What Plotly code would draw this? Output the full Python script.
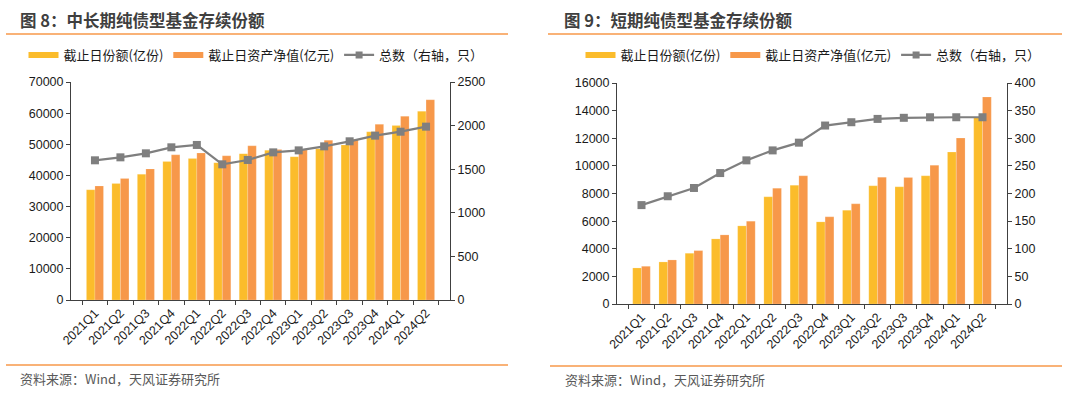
import plotly.graph_objects as go

W, H = 1080, 394

quarters = ["2021Q1", "2021Q2", "2021Q3", "2021Q4", "2022Q1", "2022Q2", "2022Q3",
            "2022Q4", "2023Q1", "2023Q2", "2023Q3", "2023Q4", "2024Q1", "2024Q2"]

# 图8 中长期纯债型基金
mid_shares = [35400, 37400, 40400, 44500, 45400, 44100, 47000, 48100, 46000, 48600, 49800, 54000, 56000, 60600]
mid_nav = [36600, 39000, 42100, 46600, 47200, 46300, 49500, 48300, 48200, 51300, 51600, 56400, 59000, 64300]
mid_count = [1602, 1636, 1682, 1751, 1778, 1556, 1606, 1693, 1716, 1762, 1820, 1885, 1930, 1988]

# 图9 短期纯债型基金
short_shares = [2610, 3045, 3674, 4713, 5656, 7758, 8604, 5946, 6792, 8556, 8483, 9281, 10997, 13500]
short_nav = [2731, 3190, 3867, 5003, 5994, 8387, 9281, 6308, 7251, 9184, 9160, 10054, 12012, 14985]
short_count = [179, 195, 210, 237, 260, 278, 292, 323, 329, 335, 337, 338, 338, 338]

titles = ["图 8：中长期纯债型基金存续份额", "图 9：短期纯债型基金存续份额"]
source = "资料来源：Wind，天风证券研究所"
name_shares = "截止日份额(亿份)"
name_nav = "截止日资产净值(亿元)"
name_count = "总数（右轴，只）"

YELLOW = "#FBBC2B"
ORANGE = "#F7984A"
GRAY = "#7F7F7F"
LINE_OR = "#F7984A"
FONT = "Noto Sans CJK SC"

def px_x(p):
    return p / W

def px_y(p):
    return 1 - p / H

fig = go.Figure()

panels = [
    dict(shares=mid_shares, nav=mid_nav, count=mid_count, x="x", y="y", y2="y2", legend="legend"),
    dict(shares=short_shares, nav=short_nav, count=short_count, x="x2", y="y3", y2="y4", legend="legend2"),
]

for p in panels:
    fig.add_trace(go.Bar(x=quarters, y=p["shares"], name=name_shares, marker_color=YELLOW,
                         marker_line=dict(color="rgba(255,255,255,0.35)", width=0.5),
                         xaxis=p["x"], yaxis=p["y"], showlegend=False))
    fig.add_trace(go.Bar(x=quarters, y=p["nav"], name=name_nav, marker_color=ORANGE,
                         marker_line=dict(color="rgba(255,255,255,0.35)", width=0.5),
                         xaxis=p["x"], yaxis=p["y"], showlegend=False))
    fig.add_trace(go.Scatter(x=quarters, y=p["count"], name=name_count, mode="lines+markers",
                             line=dict(color=GRAY, width=2.2),
                             marker=dict(symbol="square", size=8, color=GRAY),
                             xaxis=p["x"], yaxis=p["y2"], showlegend=False))
    # legend entries (wide-swatch style like the original)
    fig.add_trace(go.Scatter(x=[None], y=[None], name=name_shares, mode="lines",
                             line=dict(color=YELLOW, width=6),
                             xaxis=p["x"], yaxis=p["y"], legend=p["legend"]))
    fig.add_trace(go.Scatter(x=[None], y=[None], name=name_nav, mode="lines",
                             line=dict(color=ORANGE, width=6),
                             xaxis=p["x"], yaxis=p["y"], legend=p["legend"]))
    fig.add_trace(go.Scatter(x=[None], y=[None], name=name_count, mode="lines+markers",
                             line=dict(color=GRAY, width=2.2),
                             marker=dict(symbol="square", size=7, color=GRAY),
                             xaxis=p["x"], yaxis=p["y2"], legend=p["legend"]))

axis_font = dict(family="Liberation Sans, Arial", size=12.5, color="#1a1a1a")
common_x = dict(type="category", showline=True, linecolor="#404040", linewidth=1,
                ticks="outside", ticklen=4, tickcolor="#404040", tickson="boundaries",
                tickangle=-45, tickfont=axis_font, showgrid=False, zeroline=False,
                fixedrange=True, automargin=False)
common_y = dict(showline=True, linecolor="#404040", linewidth=1, ticks="outside", ticklen=4,
                tickcolor="#404040", tickfont=axis_font, showgrid=False, zeroline=False,
                fixedrange=True, automargin=False, tickformat="d")

L_dom_x = [px_x(71), px_x(450)]
L_dom_y = [px_y(300), px_y(82)]
R_dom_x = [px_x(617), px_x(1007)]
R_dom_y = [px_y(304), px_y(83)]

legend_common = dict(orientation="h", xanchor="center", yanchor="middle",
                     font=dict(family=FONT, size=13, color="#1a1a1a"), bgcolor="rgba(0,0,0,0)",
                     tracegroupgap=0, itemwidth=30)

fig.update_layout(
    template="none",
    width=W, height=H,
    margin=dict(l=0, r=0, t=0, b=0, autoexpand=False),
    paper_bgcolor="white", plot_bgcolor="white",
    barmode="group", bargap=0.33, bargroupgap=0.0,
    font=dict(family=FONT, color="#1a1a1a"),
    showlegend=True,
    xaxis=dict(domain=L_dom_x, anchor="y", **common_x),
    yaxis=dict(domain=L_dom_y, anchor="x", range=[0, 70000], dtick=10000, **common_y),
    yaxis2=dict(overlaying="y", side="right", anchor="x", range=[0, 2500], dtick=500, **common_y),
    xaxis2=dict(domain=R_dom_x, anchor="y3", **common_x),
    yaxis3=dict(domain=R_dom_y, anchor="x2", range=[0, 16000], dtick=2000, **common_y),
    yaxis4=dict(overlaying="y3", side="right", anchor="x2", range=[0, 400], dtick=50, **common_y),
    legend=dict(x=px_x(256), y=px_y(55), **legend_common),
    legend2=dict(x=px_x(813), y=px_y(55), **legend_common),
)

# titles, separator lines and source notes
annotations = []
shapes = []
for title, tx, line_x in [(titles[0], 18, (6, 508)), (titles[1], 562, (548, 1062))]:
    annotations.append(dict(text="<b>" + title + "</b>", x=px_x(tx), y=px_y(20), xref="paper", yref="paper",
                            xanchor="left", yanchor="middle", showarrow=False,
                            font=dict(family=FONT, size=16.5, color="#3f3f3f")))
    shapes.append(dict(type="line", xref="paper", yref="paper", x0=px_x(line_x[0]), x1=px_x(line_x[1]),
                       y0=px_y(34), y1=px_y(34), line=dict(color=LINE_OR, width=1.5)))
for sx, ly, sy, line_x in [(18, 365, 378, (6, 508)), (563, 366, 379, (550, 1062))]:
    annotations.append(dict(text=source, x=px_x(sx), y=px_y(sy), xref="paper", yref="paper",
                            xanchor="left", yanchor="middle", showarrow=False,
                            font=dict(family=FONT, size=13, color="#595959")))
    shapes.append(dict(type="line", xref="paper", yref="paper", x0=px_x(line_x[0]), x1=px_x(line_x[1]),
                       y0=px_y(ly), y1=px_y(ly), line=dict(color=LINE_OR, width=1.5)))

fig.update_layout(annotations=annotations, shapes=shapes)

fig.write_html("out.html", config={"displayModeBar": False},
               post_script="document.body.style.margin='0';document.body.style.overflow='hidden';")
